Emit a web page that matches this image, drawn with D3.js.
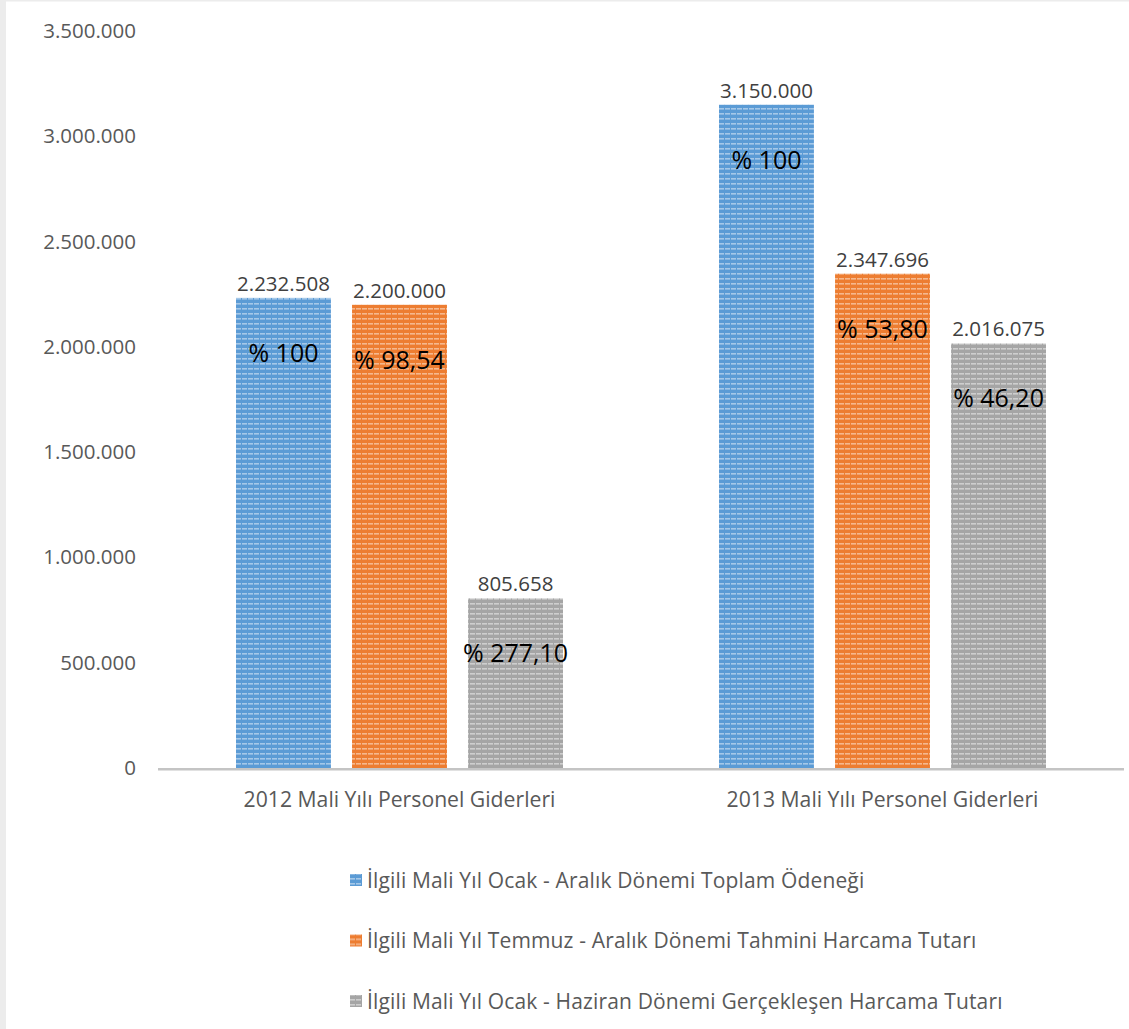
<!DOCTYPE html>
<html>
<head>
<meta charset="utf-8">
<script src="https://cdn.jsdelivr.net/npm/d3@7"></script>
<style>
  body { margin: 0; background: #fff; }
  svg { display: block; font-family: "Open Sans", sans-serif; }
</style>
</head>
<body>
<svg></svg>
<script>
const categories = ['2012 Mali Yılı Personel Giderleri', '2013 Mali Yılı Personel Giderleri'];
const seriesNames = [
    'İlgili Mali Yıl Ocak - Aralık Dönemi Toplam Ödeneği',
    'İlgili Mali Yıl Temmuz - Aralık Dönemi Tahmini Harcama Tutarı',
    'İlgili Mali Yıl Ocak - Haziran Dönemi Gerçekleşen Harcama Tutarı'
];
const toplamOdenek = [2232508, 3150000];
const tahminiHarcama = [2200000, 2347696];
const gerceklesen = [805658, 2016075];
const yuzdeToplam = ['% 100', '% 100'];
const yuzdeTahmini = ['% 98,54', '% 53,80'];
const yuzdeGerceklesen = ['% 277,10', '% 46,20'];
const yTicks = [0, 500000, 1000000, 1500000, 2000000, 2500000, 3000000, 3500000];
const colors = ['#5b9bd5', '#ed7d31', '#a5a5a5'];

const SVGsize = {w: 1129, h: 1029};
const plot = {l: 158, r: 1124, t: 31, b: 768};

const svg = d3.select('svg')
    .attr('width', SVGsize.w)
    .attr('height', SVGsize.h);

// frame edge
svg.append('rect').attr('x', 0).attr('y', 0).attr('width', 6).attr('height', SVGsize.h).attr('fill', '#ececec');
svg.append('rect').attr('x', 0).attr('y', 0).attr('width', SVGsize.w).attr('height', 1.5).attr('fill', '#ececec');

// dashed horizontal patterns
const defs = svg.append('defs');
colors.forEach((c, i) => {
    const p = defs.append('pattern')
        .attr('id', 'pat' + i)
        .attr('patternUnits', 'userSpaceOnUse')
        .attr('width', 6).attr('height', 5);
    p.append('rect').attr('width', 6).attr('height', 5).attr('fill', c);
    p.append('rect').attr('x', 0).attr('y', 3).attr('width', 5).attr('height', 1.6)
        .attr('fill', '#fff').attr('opacity', 0.45);
});

const data = categories.map((c, i) => ({
    cat: c,
    vals: [
        {s: 0, v: toplamOdenek[i], pct: yuzdeToplam[i]},
        {s: 1, v: tahminiHarcama[i], pct: yuzdeTahmini[i]},
        {s: 2, v: gerceklesen[i], pct: yuzdeGerceklesen[i]}
    ]
}));

const scaleY = d3.scaleLinear().domain([0, 3500000]).range([plot.b, plot.t]);
const scaleX = d3.scaleBand().domain(categories).range([plot.l, plot.r]).paddingInner(0).paddingOuter(0);
const scaleS = d3.scaleBand().domain([0, 1, 2]).range([78, 78 + 327]).paddingInner(0.182);

const fmt = v => d3.format(',')(v).replace(/,/g, '.');

// y axis labels
const axisY = d3.axisLeft(scaleY).tickValues(yTicks).tickSize(0).tickPadding(22).tickFormat(fmt);
const axisYG = svg.append('g')
    .attr('transform', `translate(${plot.l}, 0)`)
    .call(axisY);
axisYG.select('.domain').remove();
axisYG.selectAll('text').attr('fill', '#595959').style('font-size', '20.5px').style('font-family', '"Open Sans", sans-serif');

// bars
const groups = svg.selectAll('g.cat')
    .data(data)
    .enter().append('g')
    .classed('cat', true)
    .attr('transform', d => `translate(${scaleX(d.cat)}, 0)`);

groups.selectAll('rect')
    .data(d => d.vals)
    .enter().append('rect')
    .attr('x', d => scaleS(d.s))
    .attr('width', scaleS.bandwidth())
    .attr('y', d => scaleY(d.v))
    .attr('height', d => plot.b - scaleY(d.v))
    .attr('fill', d => `url(#pat${d.s})`);

groups.selectAll('text.val')
    .data(d => d.vals)
    .enter().append('text')
    .classed('val', true)
    .attr('x', d => scaleS(d.s) + scaleS.bandwidth() / 2)
    .attr('y', d => scaleY(d.v) - 7)
    .attr('text-anchor', 'middle')
    .attr('fill', '#404040')
    .style('font-size', '20.5px')
    .text(d => fmt(d.v));

groups.selectAll('text.pct')
    .data(d => d.vals)
    .enter().append('text')
    .classed('pct', true)
    .attr('x', d => scaleS(d.s) + scaleS.bandwidth() / 2)
    .attr('y', d => scaleY(d.v) + 64)
    .attr('text-anchor', 'middle')
    .attr('fill', '#000')
    .style('font-size', '25px')
    .text(d => d.pct);

// x axis
svg.append('line')
    .attr('x1', plot.l).attr('x2', plot.r)
    .attr('y1', plot.b + 1.2).attr('y2', plot.b + 1.2)
    .attr('stroke', '#c4c4c4').attr('stroke-width', 2.5);

svg.selectAll('text.cat')
    .data(categories)
    .enter().append('text')
    .classed('cat', true)
    .attr('x', d => scaleX(d) + scaleX.bandwidth() / 2)
    .attr('y', 807)
    .attr('text-anchor', 'middle')
    .attr('fill', '#595959')
    .style('font-size', '21.2px')
    .text(d => d);

// legend
const legend = svg.selectAll('g.legend')
    .data(seriesNames)
    .enter().append('g')
    .classed('legend', true)
    .attr('transform', (d, i) => `translate(350, ${880 + i * 60.5})`);
legend.append('rect')
    .attr('x', 0).attr('y', -6).attr('width', 12).attr('height', 12)
    .attr('fill', (d, i) => `url(#pat${i})`);
legend.append('text')
    .attr('x', 17).attr('y', 7.5)
    .attr('fill', '#595959')
    .style('font-size', '21px')
    .style('letter-spacing', '0.15px')
    .text(d => d);
</script>
</body>
</html>
